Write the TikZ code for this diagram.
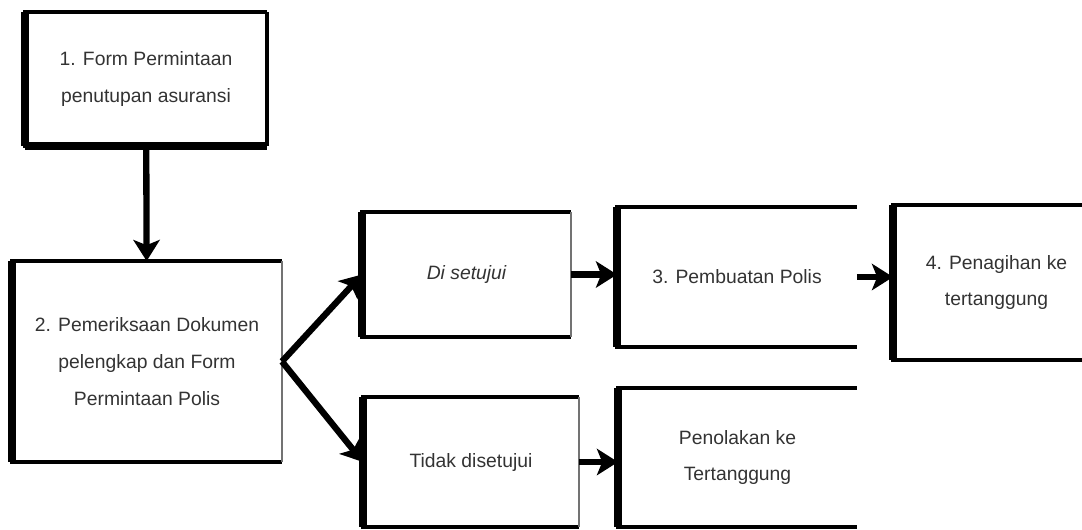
\documentclass[tikz,border=0pt]{standalone}
\usepackage{fontspec}
\setmainfont{Liberation Sans}
\usetikzlibrary{arrows.meta}

\tikzset{
  box/.style={rectangle,inner sep=0pt,outer sep=0pt,align=center,text=black!80,
    font=\fontsize{11}{21}\selectfont},
  rim/.style={line width=2.3pt},
  spine/.style={line width=4.5pt},
  hair/.style={line width=0.6pt,black!55},
  flow/.style={line width=3.6pt,-{Stealth[length=12pt,width=15pt,inset=3pt]}}
}

\begin{document}
\begin{tikzpicture}[x=0.02cm,y=-0.02cm]
\useasboundingbox (0,0) rectangle (1082,529);
\clip (0,0) rectangle (1082,529);
\node[box,minimum width=4.84cm,minimum height=2.68cm] (form) at (146,79) {1. Form Permintaan\\penutupan asuransi};
\node[box,minimum width=5.4cm,minimum height=4.02cm] (periksa) at (147,361.5) {2. Pemeriksaan Dokumen\\pelengkap dan Form\\Permintaan Polis};
\node[box,minimum width=4.18cm,minimum height=2.5cm] (setuju) at (466.5,274.5) {\itshape Di setujui};
\node[box,minimum width=4.32cm,minimum height=2.6cm] (tidak) at (471,462) {Tidak disetujui};
\node[box,minimum width=4.8cm,minimum height=2.8cm] (polis) at (737,277) {3. Pembuatan Polis};
\node[box,minimum width=4.14cm,minimum height=3.1cm] (tagih) at (996.5,282.5) {4. Penagihan ke\\tertanggung};
\node[box,minimum width=4.78cm,minimum height=2.78cm] (tolak) at (737.5,457.5) {Penolakan ke\\Tertanggung};
\foreach \n in {form,periksa,setuju,tidak,polis,tagih,tolak}
\draw[rim] (\n.north east) -- (\n.north west) -- (\n.south west) -- (\n.south east);
\foreach \n in {form,periksa,setuju,tidak,polis,tagih,tolak}
\draw[spine] (\n.north west) -- (\n.south west);
\draw[rim] (form.north east) -- (form.south east);
\draw[spine] (form.south west) -- (form.south east);
\foreach \n in {periksa,setuju,tidak}
\draw[hair] (\n.north east) -- (\n.south east);
\draw[flow] (form) -- (periksa);
\draw[flow] (periksa.east) -- (setuju.west);
\draw[flow] (periksa.east) -- (tidak.west);
\draw[flow] (setuju.east) -- (setuju.east -| polis.west);
\draw[flow] (tidak.east) -- (tidak.east -| tolak.west);
\draw[flow] (polis.east) -- (polis.east -| tagih.west);
\end{tikzpicture}
\end{document}
